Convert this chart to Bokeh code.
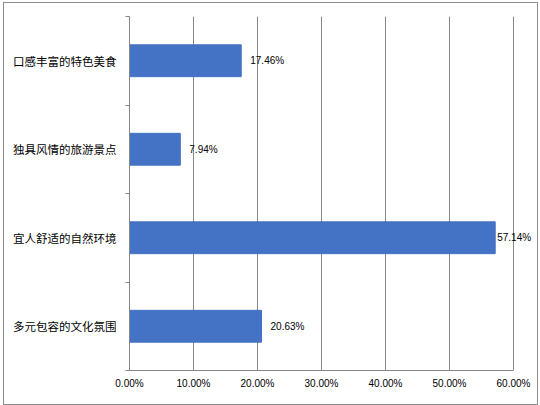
from bokeh.plotting import figure
from bokeh.models import FixedTicker, NumeralTickFormatter, Range1d, ColumnDataSource, LabelSet
from bokeh.core.properties import value
from bokeh.embed import file_html
from bokeh.resources import INLINE

categories = ["口感丰富的特色美食", "独具风情的旅游景点", "宜人舒适的自然环境", "多元包容的文化氛围"]
values = [0.1746, 0.0794, 0.5714, 0.2063]
labels = ["17.46%", "7.94%", "57.14%", "20.63%"]
x_ticks = [0.0, 0.1, 0.2, 0.3, 0.4, 0.5, 0.6]

# label pixel offsets (style only)
label_offsets = [9, 9, 2, 9]

n = len(categories)
ypos = [n - 0.5 - i for i in range(n)]

src = ColumnDataSource(dict(y=ypos, v=values, lab=labels, cat=categories, off=label_offsets))

FRAME_W = 408
AXIS_MAX = 0.6
x_end = AXIS_MAX * FRAME_W / 384.0

p = figure(width=533, height=401, output_backend="svg", toolbar_location=None,
           x_range=Range1d(0, x_end), y_range=Range1d(0, n),
           min_border_left=125, min_border_right=0, min_border_top=13, min_border_bottom=34)
p.frame_width = FRAME_W
p.frame_height = 354
p.margin = (3, 3, 1, 4)
p.outline_line_color = None
p.background_fill_color = "white"
p.border_fill_color = "white"
p.styles = {"outline": "1px solid #8c8c8c"}

p.hbar(y="y", right="v", left=0, height=0.36, source=src, color="#4472C4")

lbl = LabelSet(x="v", y="y", text="lab", source=src, x_offset="off", y_offset=0,
               text_baseline="middle", text_align="left", text_font_size="10px",
               text_font=value("Liberation Sans"), text_color="#000000")
p.add_layout(lbl)

# x axis
p.xaxis.ticker = FixedTicker(ticks=x_ticks)
p.xaxis.bounds = (0, AXIS_MAX)
p.xaxis.formatter = NumeralTickFormatter(format="0.00%")
p.xaxis.major_tick_out = 0
p.xaxis.major_tick_in = 0
p.xaxis.minor_tick_out = 0
p.xaxis.minor_tick_in = 0
p.xaxis.axis_line_color = "#868686"
p.xaxis.major_label_text_font = "Liberation Sans"
p.xaxis.major_label_text_font_size = "10px"
p.xaxis.major_label_text_color = "#000000"
p.xaxis.major_label_standoff = 7

# y axis
p.yaxis.ticker = FixedTicker(ticks=ypos, minor_ticks=[float(i) for i in range(n + 1)])
p.yaxis.major_label_overrides = {y: c for y, c in zip(ypos, categories)}
p.yaxis.major_tick_out = 0
p.yaxis.major_tick_in = 0
p.yaxis.minor_tick_out = 4
p.yaxis.minor_tick_in = 0
p.yaxis.minor_tick_line_color = "#868686"
p.yaxis.axis_line_color = "#868686"
p.yaxis.major_label_text_font = "Noto Sans CJK SC"
p.yaxis.major_label_text_font_size = "11.5px"
p.yaxis.major_label_text_color = "#000000"
p.yaxis.major_label_standoff = 9

p.xgrid.ticker = FixedTicker(ticks=x_ticks)
p.xgrid.bounds = (0, AXIS_MAX)
p.xgrid.grid_line_color = "#868686"
p.ygrid.grid_line_color = None

open("out.html", "w").write(file_html(p, INLINE))
